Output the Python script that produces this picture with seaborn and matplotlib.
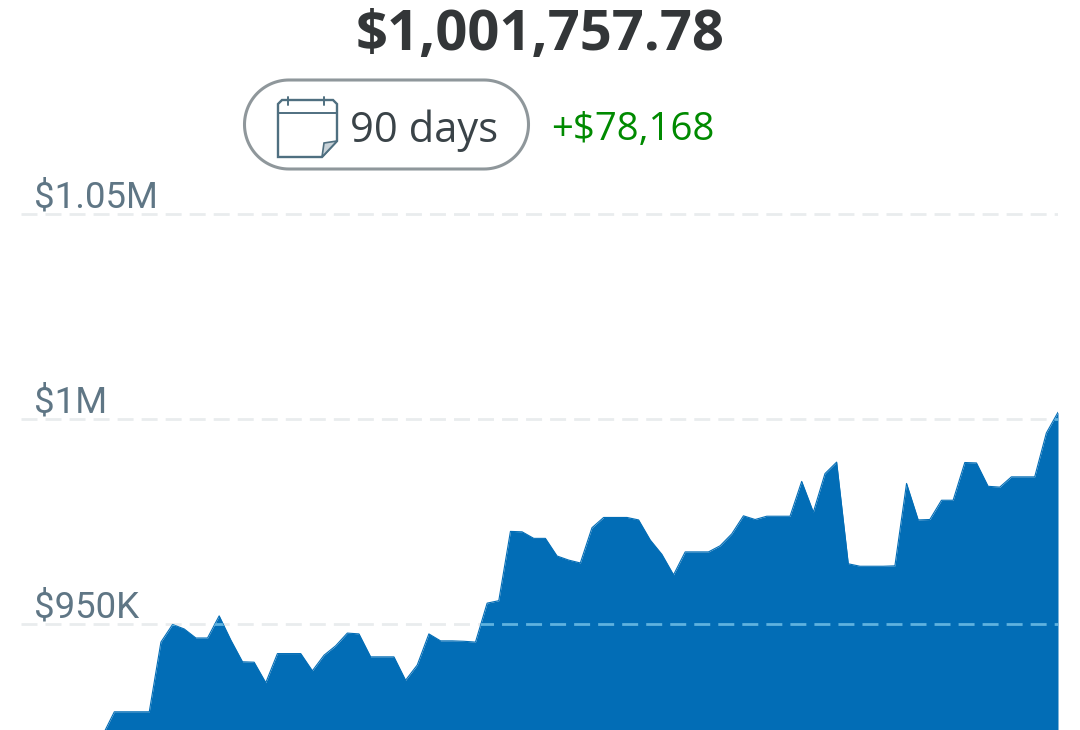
import numpy as np
import pandas as pd
import matplotlib
matplotlib.use('Agg')
import matplotlib.pyplot as plt
from matplotlib.patches import Polygon
import seaborn as sns

# balance in thousands of dollars
balance = [923.0, 928.7, 928.7, 928.7, 928.7, 945.7, 950.0, 948.9, 946.7, 946.7,
           952.1, 946.2, 940.9, 940.8, 935.8, 942.9, 942.9, 942.9, 938.7, 942.5,
           944.8, 947.9, 947.7, 942.1, 942.1, 942.1, 936.4, 940.1, 947.7, 946.0,
           946.0, 945.9, 945.7, 955.2, 955.8, 972.7, 972.6, 971.0, 971.0, 966.7,
           965.7, 965.0, 973.6, 976.1, 976.1, 976.1, 975.5, 970.6, 967.1, 962.1,
           967.7, 967.7, 967.7, 969.2, 972.1, 976.5, 975.6, 976.4, 976.4, 976.4,
           984.9, 977.4, 986.8, 989.6, 964.8, 964.2, 964.2, 964.2, 964.3, 984.4,
           975.5, 975.6, 980.3, 980.3, 989.5, 989.4, 983.7, 983.5, 986.0, 986.0,
           986.0, 996.7, 1001.76]
tick_values = [950, 1000, 1050]
tick_labels = ['$950K', '$1M', '$1.05M']
total_label = '$1,001,757.78'
period_label = '90 days'
change_label = '+$78,168'

blue = '#026DB6'

sns.set_style('white')
plt.rcParams['font.family'] = ['Open Sans', 'DejaVu Sans']
plt.rcParams['lines.scale_dashes'] = False

df = pd.DataFrame({'day': np.arange(len(balance)), 'balance': balance})

fig = plt.figure(figsize=(10.8, 7.3), dpi=100)
ax = fig.add_axes([21 / 1080, 0, 1037 / 1080, 1])

# area
area = ax.fill_between(df['day'], df['balance'], 900, color=blue, lw=0, zorder=2)
sns.lineplot(data=df, x='day', y='balance', color=blue, lw=0.8, ax=ax, zorder=3)

ax.set_xlim(-7.01, 82)
ax.set_ylim(924.26, 1102.31)
ax.axis('off')

# dashed grid, lighter blue where it crosses the area
clip = area.get_paths()[0]
for v, lab in zip(tick_values, tick_labels):
    ax.plot(ax.get_xlim(), [v, v], color='#E9ECEE', lw=2.0, ls=(0, (11.5, 5.8)),
            dash_capstyle='butt', zorder=1)
    over, = ax.plot(ax.get_xlim(), [v, v], color='#5FB2DF', lw=2.0, ls=(0, (11.5, 5.8)),
                    dash_capstyle='butt', zorder=4)
    over.set_clip_path(clip, ax.transData)
    ax.annotate(lab, xy=(0, v), xycoords=('axes fraction', 'data'), xytext=(9.5, -0.5),
                textcoords='offset points', family='Roboto', fontsize=26.4,
                color='#5F7685', va='bottom', ha='left')

# header drawn in pixel coordinates
top = fig.add_axes([0, 0, 1, 1], facecolor='none')
top.set_xlim(0, 1080)
top.set_ylim(730, 0)
top.axis('off')

top.text(540, 50, total_label, ha='center', va='baseline', fontsize=40.4,
         fontweight='bold', color='#333638')
top.text(350, 142, period_label, ha='left', va='baseline', fontsize=30, color='#3A4348')
top.text(551, 140, change_label, ha='left', va='baseline', fontsize=27.6, color='#008A00')

# pill outline
ang = np.linspace(-np.pi / 2, np.pi / 2, 60)
pill_x = np.concatenate([484 + 44.5 * np.cos(ang), 289 - 44.5 * np.cos(ang[::-1])])
pill_y = np.concatenate([124.5 + 44.5 * np.sin(ang), 124.5 + 44.5 * np.sin(ang[::-1])])
top.add_patch(Polygon(np.column_stack([pill_x, pill_y]), closed=True, fc='white',
                      ec='#8F979B', lw=2.2))

# calendar icon
icon = '#4F6F80'
top.add_patch(Polygon([(278, 104), (282, 100), (333, 100), (337, 104), (337, 141),
                       (322, 157), (278, 157)], closed=True, fc='white', ec=icon, lw=1.7))
top.plot([278, 337], [113, 113], color=icon, lw=1.4)
top.plot([288, 288], [97, 105], color=icon, lw=1.4)
top.plot([324, 324], [97, 105], color=icon, lw=1.4)
top.add_patch(Polygon([(337, 141), (324, 143), (322, 157)], closed=True, fc='#C9D3D9', ec=icon, lw=1.2))

fig.savefig('out.png', dpi=100)
